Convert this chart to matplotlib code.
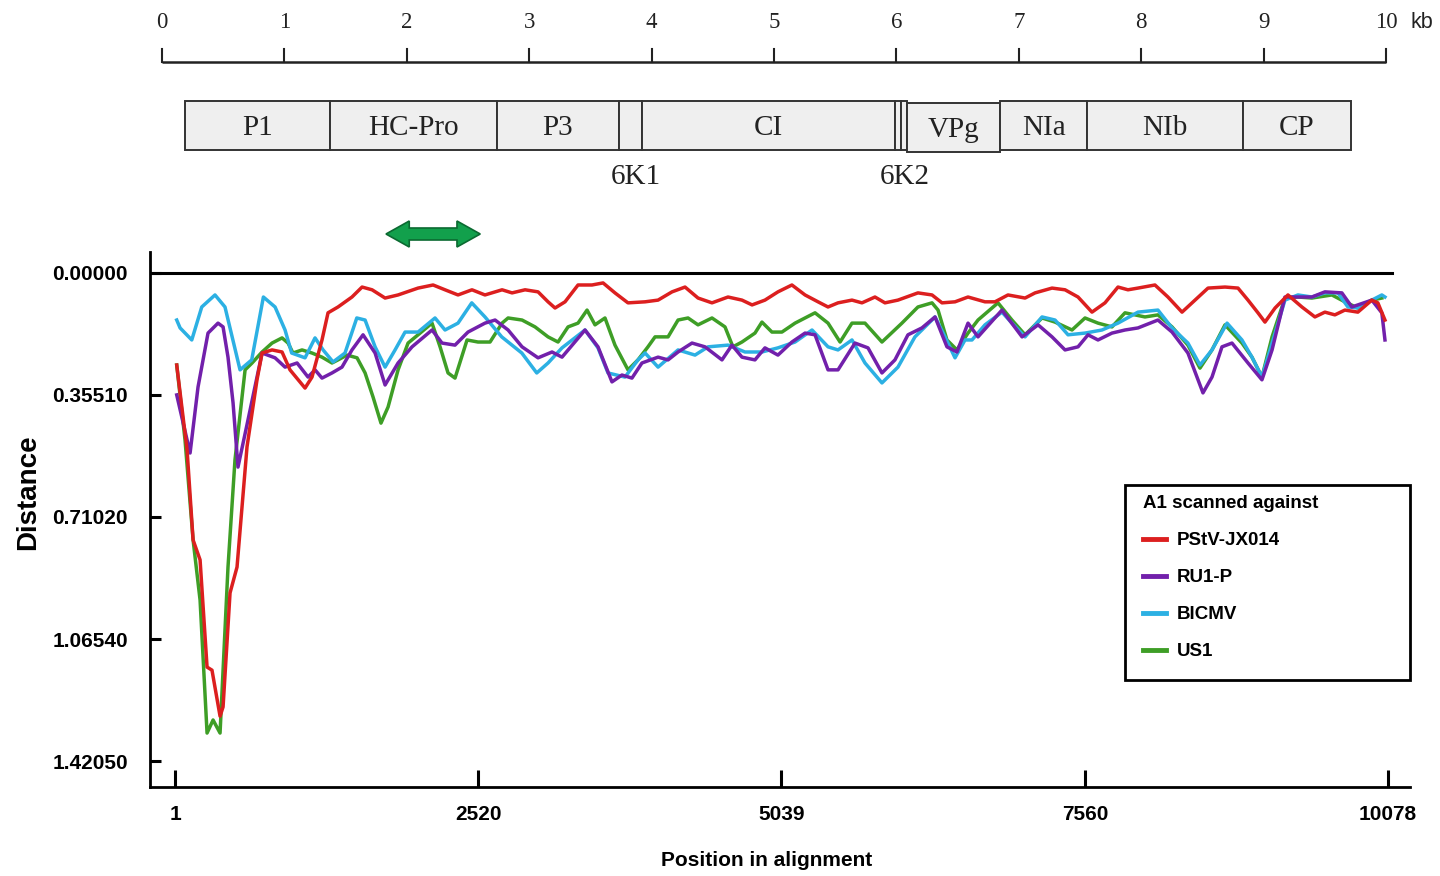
import matplotlib
matplotlib.use("Agg")
import matplotlib.pyplot as plt
from matplotlib.patches import Rectangle, Polygon
from matplotlib.lines import Line2D

plt.rcParams['font.family'] = ['Liberation Sans', 'DejaVu Sans']

# ---- genome map (kb) ----
kb_ticks = list(range(11))
seg_bounds = [0.19, 1.37, 2.74, 3.73, 3.92, 5.99, 6.04, 6.09, 6.85, 7.56, 8.83, 9.71]
seg_labels = ["P1", "HC-Pro", "P3", "", "CI", "", "", "VPg", "NIa", "NIb", "CP"]
small_labels = {3: "6K1", 5: "6K2"}   # segment index -> label under the map
arrow_kb = (1.83, 2.60)               # region marked by the green arrow

# ---- distance scan ----
yticks = [0.0, 0.3551, 0.7102, 1.0654, 1.4205]
ytick_labels = ["0.00000", "0.35510", "0.71020", "1.06540", "1.42050"]
xticks = [1, 2520, 5039, 7560, 10078]

pos_pstv = [15, 101, 151, 209, 267, 308, 375, 400, 458, 516, 599, 682, 724, 807, 890,
            956, 1081, 1139, 1222, 1272, 1355, 1471, 1555, 1638, 1746, 1854, 2020, 2145,
            2244, 2352, 2468, 2576, 2718, 2801, 2909, 3017, 3100, 3158, 3241, 3349, 3465,
            3557, 3656, 3764, 3906, 4014, 4130, 4238, 4346, 4462, 4595, 4711, 4795, 4902,
            5010, 5126, 5235, 5343, 5426, 5509, 5625, 5708, 5816, 5899, 6007, 6173, 6290,
            6373, 6481, 6589, 6730, 6813, 6921, 7063, 7146, 7287, 7395, 7503, 7619, 7727,
            7835, 7918, 8001, 8142, 8250, 8367, 8475, 8583, 8724, 8832, 8915, 8998, 9056,
            9140, 9247, 9363, 9471, 9554, 9637, 9720, 9828, 9944, 9994, 10053]
dist_pstv = [0.268, 0.515, 0.777, 0.835, 1.147, 1.156, 1.290, 1.263, 0.931, 0.856, 0.506,
             0.311, 0.233, 0.224, 0.230, 0.282, 0.335, 0.303, 0.195, 0.116, 0.099, 0.070,
             0.041, 0.049, 0.073, 0.064, 0.044, 0.035, 0.049, 0.064, 0.049, 0.064, 0.049,
             0.058, 0.049, 0.055, 0.084, 0.102, 0.084, 0.035, 0.035, 0.029, 0.058, 0.087,
             0.084, 0.079, 0.055, 0.041, 0.073, 0.087, 0.070, 0.079, 0.093, 0.079, 0.055,
             0.035, 0.064, 0.084, 0.099, 0.087, 0.079, 0.087, 0.070, 0.087, 0.079, 0.058,
             0.064, 0.087, 0.084, 0.070, 0.084, 0.084, 0.064, 0.073, 0.058, 0.044, 0.049,
             0.070, 0.114, 0.087, 0.041, 0.049, 0.044, 0.035, 0.070, 0.114, 0.079, 0.044,
             0.041, 0.044, 0.079, 0.116, 0.143, 0.102, 0.064, 0.099, 0.128, 0.114, 0.122,
             0.108, 0.114, 0.079, 0.087, 0.137]

pos_ru1 = [15, 57, 126, 192, 275, 358, 400, 441, 483, 524, 607, 724, 832, 915, 1015, 1106,
           1164, 1222, 1305, 1388, 1471, 1563, 1663, 1746, 1854, 1970, 2136, 2219, 2327,
           2435, 2576, 2660, 2768, 2884, 3017, 3133, 3216, 3407, 3515, 3631, 3714, 3797,
           3880, 4014, 4097, 4180, 4296, 4404, 4545, 4628, 4711, 4819, 4902, 5010, 5126,
           5235, 5318, 5426, 5509, 5650, 5758, 5874, 5982, 6090, 6206, 6315, 6414, 6497,
           6589, 6672, 6871, 7038, 7171, 7287, 7395, 7503, 7586, 7669, 7785, 7893, 8001,
           8167, 8284, 8416, 8541, 8616, 8699, 8782, 8915, 9031, 9115, 9222, 9446, 9554,
           9695, 9778, 9944, 10027, 10053]
dist_ru1 = [0.355, 0.419, 0.524, 0.332, 0.175, 0.146, 0.157, 0.245, 0.378, 0.565, 0.428,
            0.233, 0.247, 0.274, 0.262, 0.303, 0.282, 0.306, 0.291, 0.274, 0.224, 0.180,
            0.233, 0.326, 0.262, 0.215, 0.166, 0.204, 0.210, 0.172, 0.146, 0.137, 0.166,
            0.215, 0.247, 0.230, 0.245, 0.166, 0.215, 0.317, 0.297, 0.306, 0.262, 0.245,
            0.253, 0.230, 0.204, 0.215, 0.253, 0.210, 0.245, 0.253, 0.218, 0.239, 0.201,
            0.175, 0.180, 0.282, 0.282, 0.204, 0.218, 0.291, 0.253, 0.180, 0.160, 0.128,
            0.215, 0.230, 0.146, 0.186, 0.108, 0.186, 0.151, 0.186, 0.224, 0.215, 0.180,
            0.195, 0.175, 0.166, 0.160, 0.137, 0.172, 0.233, 0.349, 0.303, 0.215, 0.204,
            0.262, 0.311, 0.224, 0.070, 0.070, 0.055, 0.058, 0.099, 0.079, 0.116, 0.195]

pos_blcmv = [15, 43, 140, 223, 333, 416, 541, 638, 735, 832, 915, 970, 1081, 1164, 1231,
             1314, 1413, 1511, 1580, 1663, 1746, 1829, 1912, 2020, 2161, 2244, 2352, 2466,
             2576, 2715, 2882, 3006, 3100, 3216, 3407, 3515, 3598, 3739, 3847, 3906, 4014,
             4180, 4321, 4429, 4595, 4736, 4877, 5010, 5152, 5293, 5426, 5509, 5625, 5733,
             5874, 6007, 6148, 6315, 6398, 6481, 6564, 6622, 6730, 6871, 6954, 7063, 7204,
             7312, 7420, 7561, 7702, 7835, 8001, 8167, 8284, 8416, 8516, 8616, 8741, 8865,
             8948, 9031, 9115, 9222, 9330, 9446, 9554, 9662, 9745, 9828, 9944, 10027, 10053]
dist_blcmv = [0.137, 0.160, 0.195, 0.099, 0.064, 0.099, 0.282, 0.253, 0.070, 0.099, 0.166,
              0.233, 0.247, 0.189, 0.224, 0.259, 0.233, 0.131, 0.137, 0.215, 0.274, 0.224,
              0.172, 0.172, 0.131, 0.166, 0.146, 0.087, 0.128, 0.186, 0.233, 0.291, 0.262,
              0.218, 0.166, 0.218, 0.291, 0.303, 0.253, 0.233, 0.274, 0.224, 0.239, 0.215,
              0.210, 0.230, 0.230, 0.218, 0.201, 0.166, 0.215, 0.224, 0.195, 0.262, 0.320,
              0.274, 0.186, 0.128, 0.186, 0.247, 0.195, 0.195, 0.151, 0.114, 0.146, 0.186,
              0.128, 0.137, 0.180, 0.175, 0.166, 0.146, 0.114, 0.108, 0.160, 0.204, 0.268,
              0.224, 0.146, 0.195, 0.245, 0.303, 0.204, 0.079, 0.064, 0.070, 0.058, 0.058,
              0.099, 0.102, 0.079, 0.064, 0.070]

pos_us1 = [15, 84, 151, 209, 267, 317, 375, 441, 499, 583, 641, 724, 807, 890, 940, 981,
           1056, 1139, 1222, 1305, 1355, 1430, 1513, 1580, 1646, 1712, 1771, 1854, 1937,
           2020, 2136, 2203, 2269, 2327, 2427, 2518, 2618, 2718, 2768, 2884, 2992, 3100,
           3183, 3266, 3349, 3424, 3490, 3573, 3656, 3764, 3847, 3930, 3989, 4097, 4180,
           4263, 4346, 4462, 4570, 4636, 4711, 4819, 4877, 4960, 5043, 5152, 5318, 5426,
           5526, 5625, 5733, 5874, 6040, 6173, 6290, 6340, 6414, 6497, 6589, 6672, 6838,
           6954, 7063, 7204, 7312, 7453, 7561, 7669, 7785, 7893, 8059, 8167, 8284, 8416,
           8516, 8616, 8724, 8865, 8948, 9031, 9115, 9222, 9330, 9446, 9612, 9720, 9828,
           9944, 10027]
dist_us1 = [0.268, 0.486, 0.777, 0.952, 1.339, 1.301, 1.339, 0.856, 0.544, 0.282, 0.262,
            0.230, 0.204, 0.189, 0.204, 0.233, 0.224, 0.233, 0.245, 0.262, 0.253, 0.239,
            0.247, 0.291, 0.361, 0.437, 0.390, 0.282, 0.204, 0.180, 0.146, 0.215, 0.291,
            0.306, 0.195, 0.201, 0.201, 0.146, 0.131, 0.137, 0.157, 0.186, 0.201, 0.157,
            0.146, 0.108, 0.151, 0.131, 0.210, 0.282, 0.253, 0.215, 0.186, 0.186, 0.137,
            0.131, 0.151, 0.131, 0.157, 0.215, 0.201, 0.175, 0.143, 0.172, 0.172, 0.146,
            0.116, 0.146, 0.201, 0.146, 0.146, 0.201, 0.146, 0.099, 0.087, 0.108, 0.195,
            0.224, 0.175, 0.137, 0.087, 0.137, 0.180, 0.131, 0.143, 0.166, 0.131, 0.146,
            0.157, 0.116, 0.128, 0.122, 0.157, 0.210, 0.277, 0.224, 0.151, 0.204, 0.245,
            0.303, 0.186, 0.073, 0.070, 0.073, 0.064, 0.084, 0.102, 0.079, 0.073]

c_red = '#dc1f1f'
c_purple = '#7220ab'
c_cyan = '#2cb0e3'
c_green = '#3e9e26'

W, H = 1440, 876
fig = plt.figure(figsize=(W / 100, H / 100), dpi=100)

# ---------- genome map, x in kb, y in pixels from top ----------
kb0_px, px_per_kb = 162, 122.4
axm = fig.add_axes([0, 0, 1, 1])
axm.set_xlim(-kb0_px / px_per_kb, (W - kb0_px) / px_per_kb)
axm.set_ylim(H, 0)
axm.axis('off')

axm.plot([kb_ticks[0], kb_ticks[-1]], [62, 62], color='#222222', lw=1.8, solid_capstyle='butt')
for k in kb_ticks:
    axm.plot([k, k], [49, 62], color='#222222', lw=1.5)
    axm.text(k, 23, str(k), ha='center', va='center', fontsize=16.5,
             family='Liberation Serif', color='#222222')
axm.text(kb_ticks[-1] + 0.29, 23, 'kb', ha='center', va='center', fontsize=15.5, color='#222222')

for i, name in enumerate(seg_labels):
    x0, x1 = seg_bounds[i], seg_bounds[i + 1]
    dy = 2 if name == 'VPg' else 0
    axm.add_patch(Rectangle((x0, 101 + dy), x1 - x0, 49, facecolor='#efefef',
                            edgecolor='#333333', lw=1.4))
    if name:
        axm.text((x0 + x1) / 2, 128 + dy, name, ha='center', va='center', fontsize=21,
                 family='Liberation Serif', color='#222222')
for i, name in small_labels.items():
    x0, x1 = seg_bounds[i], seg_bounds[i + 1]
    axm.text((x0 + x1) / 2 + 0.05, 177, name, ha='center', va='center', fontsize=21,
             family='Liberation Serif', color='#222222')

# green double arrow
a0, a1 = arrow_kb
hl = 0.19
yc, hw, bw = 234, 13, 6
axm.add_patch(Polygon([(a0, yc), (a0 + hl, yc - hw), (a0 + hl, yc - bw), (a1 - hl, yc - bw),
                       (a1 - hl, yc - hw), (a1, yc), (a1 - hl, yc + hw), (a1 - hl, yc + bw),
                       (a0 + hl, yc + bw), (a0 + hl, yc + hw)], closed=True,
                      facecolor='#12a04c', edgecolor='#0b6a31', lw=1.2))

# ---------- distance plot ----------
ax = fig.add_axes([150 / W, 1 - 787 / H, 1260 / W, (787 - 252) / H])
ax.patch.set_alpha(0)
ax.set_xlim(-207, 10261)
ax.set_ylim(1.496, -0.061)

ax.axhline(0, xmin=0, xmax=0.986, color='black', lw=2.2)
ax.plot(pos_us1, dist_us1, color=c_green, lw=2.5)
ax.plot(pos_blcmv, dist_blcmv, color=c_cyan, lw=2.5)
ax.plot(pos_ru1, dist_ru1, color=c_purple, lw=2.5)
ax.plot(pos_pstv, dist_pstv, color=c_red, lw=2.5)

for s in ['top', 'right']:
    ax.spines[s].set_visible(False)
for s in ['left', 'bottom']:
    ax.spines[s].set_linewidth(2)

ax.set_yticks(yticks)
ax.set_yticklabels(ytick_labels)
ax.set_xticks(xticks)
ax.set_xticklabels([str(v) for v in xticks])
ax.tick_params(axis='y', direction='in', length=8, width=2.2, pad=16, labelsize=15)
ax.tick_params(axis='x', direction='in', length=12, width=2.2, pad=13, labelsize=15)
for lbl in ax.get_xticklabels() + ax.get_yticklabels():
    lbl.set_fontweight('bold')

fig.text(28 / W, 1 - 492 / H, 'Distance', rotation=90, ha='center', va='center',
         fontsize=20, fontweight='bold')
fig.text(767 / W, 1 - 861 / H, 'Position in alignment', ha='center', va='center',
         fontsize=15, fontweight='bold')

# legend box
fig.patches.append(Rectangle((1125 / W, 1 - 680 / H), 285 / W, 195 / H,
                             transform=fig.transFigure, facecolor='white',
                             edgecolor='black', lw=2, zorder=5))
handles = [Line2D([], [], color=c, lw=3.5) for c in (c_red, c_purple, c_cyan, c_green)]
leg = fig.legend(handles, ['PStV-JX014', 'RU1-P', 'BlCMV', 'US1'],
                 title='A1 scanned against', loc='upper left',
                 bbox_to_anchor=(1134 / W, 1 - 486 / H), frameon=False,
                 prop={'weight': 'bold', 'size': 13.5},
                 title_fontproperties={'weight': 'bold', 'size': 13.5},
                 handlelength=1.2, handletextpad=0.6, labelspacing=1.06,
                 alignment='left', borderpad=0)
leg.set_zorder(6)

fig.savefig('out.png', dpi=100)
